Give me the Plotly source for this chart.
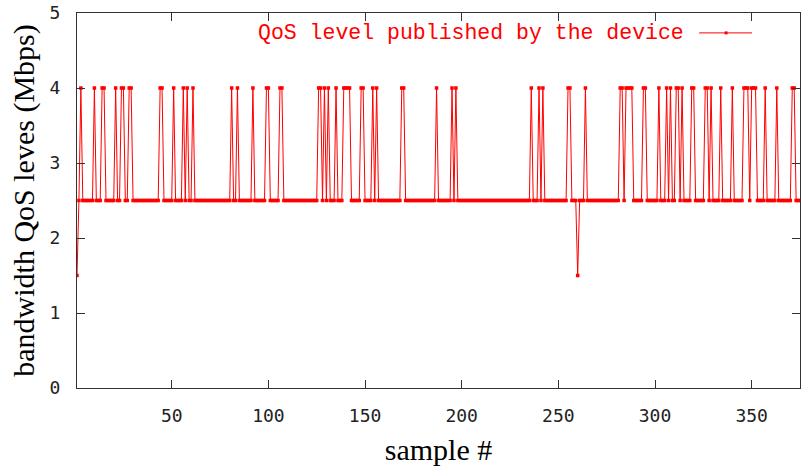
import plotly.graph_objects as go

# sample index 1..375
samples = list(range(1, 376))

# QoS level published by the device (Mbps), 25 per row
qos = [
    1.5, 2.5, 4, 2.5, 2.5, 2.5, 2.5, 2.5, 2.5, 4, 2.5, 2.5, 2.5, 4, 4, 2.5, 2.5, 2.5, 2.5, 2.5, 4, 2.5, 2.5, 4, 4,
    2.5, 2.5, 4, 4, 2.5, 2.5, 2.5, 2.5, 2.5, 2.5, 2.5, 2.5, 2.5, 2.5, 2.5, 2.5, 2.5, 2.5, 4, 4, 2.5, 2.5, 2.5, 2.5, 2.5,
    4, 2.5, 2.5, 2.5, 2.5, 4, 2.5, 4, 2.5, 2.5, 4, 2.5, 2.5, 2.5, 2.5, 2.5, 2.5, 2.5, 2.5, 2.5, 2.5, 2.5, 2.5, 2.5, 2.5,
    2.5, 2.5, 2.5, 2.5, 2.5, 4, 2.5, 2.5, 4, 2.5, 2.5, 2.5, 2.5, 2.5, 2.5, 2.5, 4, 2.5, 2.5, 2.5, 2.5, 2.5, 2.5, 4, 4,
    2.5, 2.5, 2.5, 2.5, 2.5, 4, 4, 2.5, 2.5, 2.5, 2.5, 2.5, 2.5, 2.5, 2.5, 2.5, 2.5, 2.5, 2.5, 2.5, 2.5, 2.5, 2.5, 2.5, 2.5,
    4, 4, 2.5, 4, 2.5, 4, 2.5, 2.5, 2.5, 4, 2.5, 2.5, 2.5, 4, 4, 4, 4, 2.5, 2.5, 2.5, 2.5, 2.5, 4, 4, 2.5,
    2.5, 2.5, 2.5, 4, 2.5, 4, 2.5, 2.5, 2.5, 2.5, 2.5, 2.5, 2.5, 2.5, 2.5, 2.5, 2.5, 2.5, 4, 4, 2.5, 2.5, 2.5, 2.5, 2.5,
    2.5, 2.5, 2.5, 2.5, 2.5, 2.5, 2.5, 2.5, 2.5, 2.5, 2.5, 4, 2.5, 2.5, 2.5, 2.5, 2.5, 2.5, 2.5, 4, 2.5, 4, 2.5, 2.5, 2.5,
    2.5, 2.5, 2.5, 2.5, 2.5, 2.5, 2.5, 2.5, 2.5, 2.5, 2.5, 2.5, 2.5, 2.5, 2.5, 2.5, 2.5, 2.5, 2.5, 2.5, 2.5, 2.5, 2.5, 2.5, 2.5,
    2.5, 2.5, 2.5, 2.5, 2.5, 2.5, 2.5, 2.5, 2.5, 2.5, 4, 2.5, 2.5, 2.5, 4, 2.5, 4, 2.5, 2.5, 2.5, 2.5, 2.5, 2.5, 2.5, 2.5,
    2.5, 2.5, 2.5, 2.5, 4, 4, 2.5, 2.5, 2.5, 1.5, 2.5, 2.5, 2.5, 4, 2.5, 2.5, 2.5, 2.5, 2.5, 2.5, 2.5, 2.5, 2.5, 2.5, 2.5,
    2.5, 2.5, 2.5, 2.5, 2.5, 2.5, 4, 4, 2.5, 4, 4, 4, 4, 2.5, 2.5, 2.5, 2.5, 2.5, 4, 4, 2.5, 2.5, 2.5, 2.5, 2.5,
    2.5, 4, 2.5, 2.5, 2.5, 4, 2.5, 4, 2.5, 2.5, 4, 4, 2.5, 4, 2.5, 2.5, 2.5, 2.5, 4, 4, 2.5, 2.5, 2.5, 2.5, 2.5,
    4, 4, 2.5, 4, 2.5, 2.5, 2.5, 2.5, 4, 2.5, 2.5, 2.5, 2.5, 2.5, 4, 2.5, 2.5, 2.5, 2.5, 2.5, 4, 4, 4, 2.5, 4,
    4, 4, 2.5, 2.5, 2.5, 2.5, 4, 2.5, 2.5, 2.5, 2.5, 2.5, 4, 2.5, 2.5, 2.5, 2.5, 2.5, 2.5, 2.5, 4, 4, 2.5, 2.5, 2.5,
]

x_ticks = [50, 100, 150, 200, 250, 300, 350]
y_ticks = [0, 1, 2, 3, 4, 5]
series_name = "QoS level published by the device"

RED = "#ff0000"
AXIS = "#333333"
tick_font = dict(family="DejaVu Sans Mono", size=18, color="#222222")
title_font = dict(family="Liberation Serif", size=30, color="#000000")

fig = go.Figure()
fig.add_trace(go.Scatter(
    x=samples, y=qos, mode="lines+markers", name=series_name,
    line=dict(color=RED, width=1),
    marker=dict(symbol="square", size=3.5, color=RED, line=dict(width=0)),
    showlegend=False,
))

# gnuplot-style key: text then line sample on its right
L, R, T, B = 77, 2, 11, 80
W, H = 803, 468
pw, ph = W - L - R, H - T - B
def px_x(p):
    return (p - L) / pw
def px_y(p):
    return (H - B - p) / ph

key_y = px_y(31)
fig.add_annotation(
    x=px_x(687), y=key_y, xref="paper", yref="paper",
    text=series_name, showarrow=False, xanchor="right", yanchor="middle",
    font=dict(family="Liberation Mono", size=21.5, color=RED),
)
fig.add_shape(type="line", xref="paper", yref="paper",
              x0=px_x(700), x1=px_x(753), y0=key_y, y1=key_y,
              line=dict(color=RED, width=1))
fig.add_shape(type="rect", xref="paper", yref="paper",
              x0=px_x(725.5), x1=px_x(728.5), y0=key_y - 1.5 / ph, y1=key_y + 1.5 / ph,
              line=dict(width=0), fillcolor=RED)

fig.update_layout(
    width=W, height=H,
    margin=dict(l=L, r=R, t=T, b=B, pad=0),
    paper_bgcolor="white", plot_bgcolor="white",
    showlegend=False,
)
fig.update_xaxes(
    range=[1, 375], tickvals=x_ticks, ticks="inside", ticklen=8, tickwidth=1,
    tickcolor=AXIS, showline=True, linecolor=AXIS, linewidth=1, mirror="ticks",
    showgrid=False, zeroline=False, tickfont=tick_font, ticklabelstandoff=11,
    title=dict(text="sample #", font=title_font, standoff=14),
)
fig.update_yaxes(
    range=[0, 5], tickvals=y_ticks, ticks="inside", ticklen=8, tickwidth=1,
    tickcolor=AXIS, showline=True, linecolor=AXIS, linewidth=1, mirror="ticks",
    showgrid=False, zeroline=False, tickfont=tick_font, ticklabelstandoff=12,
    title=dict(text="bandwidth QoS leves (Mbps)", font=title_font, standoff=6),
)

fig.write_html("out.html")
